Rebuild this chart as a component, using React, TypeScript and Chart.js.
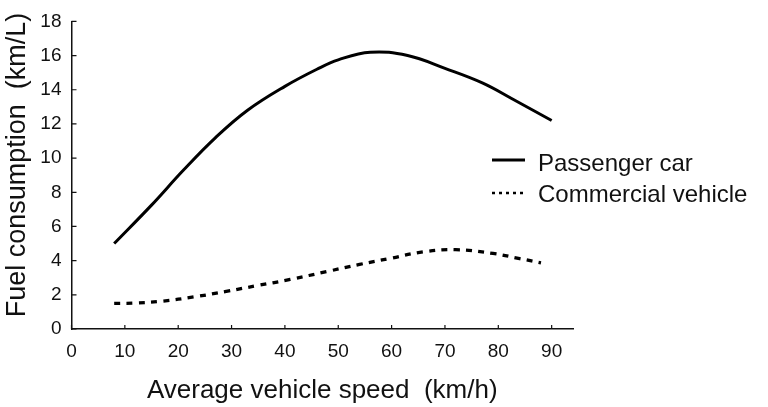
import React, { useEffect, useRef } from 'react';
import { Chart, registerables } from 'chart.js';

Chart.register(...registerables);

// ---- data ----
const carSpeed = [8, 15, 21, 27, 33, 40, 46, 50, 56, 63, 70, 77, 83, 90];
const carFuel = [5.0, 7.25, 9.3, 11.2, 12.8, 14.2, 15.2, 15.75, 16.2, 16.0, 15.25, 14.4, 13.4, 12.2];

const vanSpeed = [8, 12, 17, 23, 29, 35, 41, 48, 54, 60, 66, 72, 79, 84, 88];
const vanFuel = [1.5, 1.52, 1.63, 1.88, 2.2, 2.55, 2.9, 3.37, 3.78, 4.15, 4.52, 4.64, 4.42, 4.12, 3.87];

const xTicks = [0, 10, 20, 30, 40, 50, 60, 70, 80, 90];
const yTicks = [0, 2, 4, 6, 8, 10, 12, 14, 16, 18];

const seriesNames = ['Passenger car', 'Commercial vehicle'];
const xTitle = 'Average vehicle speed  (km/h)';
const yTitle = 'Fuel consumption  (km/L)';

const FONT = "'Liberation Sans', Arial, Helvetica, sans-serif";
const INK = '#111';

const innerTicks = {
  id: 'innerTicks',
  afterDatasetsDraw(chart: any) {
    const { ctx, chartArea: a, scales } = chart;
    const x = scales.x;
    const y = scales.y;
    ctx.save();
    ctx.strokeStyle = INK;
    ctx.lineWidth = 1.2;
    ctx.beginPath();
    x.ticks.forEach((t: any) => {
      const px = x.getPixelForValue(t.value);
      ctx.moveTo(px, a.bottom);
      ctx.lineTo(px, a.bottom - 4);
    });
    y.ticks.forEach((t: any) => {
      const py = y.getPixelForValue(t.value);
      ctx.moveTo(a.left, py);
      ctx.lineTo(a.left + 5, py);
    });
    ctx.stroke();
    ctx.restore();
  },
};

const yTitlePlugin = {
  id: 'yTitlePlugin',
  afterDraw(chart: any) {
    const { ctx } = chart;
    ctx.save();
    ctx.translate(18, 165);
    ctx.rotate(-Math.PI / 2);
    ctx.fillStyle = INK;
    ctx.font = `27px ${FONT}`;
    ctx.textAlign = 'center';
    ctx.textBaseline = 'middle';
    ctx.fillText(yTitle, 0, 0);
    ctx.restore();
  },
};

const customLegend = {
  id: 'customLegend',
  afterDraw(chart: any) {
    const { ctx } = chart;
    const x0 = 492;
    const x1 = 525;
    const tx = 538;
    const rows = [
      { y: 160, base: 170.5, dash: [] as number[], width: 3 },
      { y: 193, base: 201.5, dash: [3, 4], width: 2.6 },
    ];
    ctx.save();
    rows.forEach((r, i) => {
      ctx.beginPath();
      ctx.setLineDash(r.dash);
      ctx.lineCap = 'butt';
      ctx.strokeStyle = '#000';
      ctx.lineWidth = r.width;
      ctx.moveTo(x0, r.y);
      ctx.lineTo(x1, r.y);
      ctx.stroke();
      ctx.setLineDash([]);
      ctx.fillStyle = INK;
      ctx.font = `24px ${FONT}`;
      ctx.textAlign = 'left';
      ctx.textBaseline = 'alphabetic';
      ctx.fillText(seriesNames[i], tx, r.base);
    });
    ctx.restore();
  },
};

export default function App() {
  const ref = useRef<HTMLCanvasElement | null>(null);

  useEffect(() => {
    document.body.style.margin = '0';
    if (!ref.current) return;
    const chart = new Chart(ref.current, {
      type: 'line',
      data: {
        datasets: [
          {
            label: seriesNames[0],
            data: carSpeed.map((s, i) => ({ x: s, y: carFuel[i] })),
            borderColor: '#000',
            borderWidth: 3,
            pointRadius: 0,
            tension: 0.4,
            fill: false,
          },
          {
            label: seriesNames[1],
            data: vanSpeed.map((s, i) => ({ x: s, y: vanFuel[i] })),
            borderColor: '#000',
            borderWidth: 3.3,
            borderDash: [6, 6.3],
            borderCapStyle: 'butt',
            pointRadius: 0,
            tension: 0.4,
            fill: false,
          },
        ],
      },
      options: {
        responsive: false,
        animation: false,
        devicePixelRatio: 1,
        layout: { padding: { left: 0, right: 195, top: 15, bottom: 0 } },
        plugins: {
          legend: { display: false },
          tooltip: { enabled: false },
        },
        scales: {
          x: {
            type: 'linear',
            min: 0,
            max: 94,
            afterBuildTicks: (scale: any) => {
              scale.ticks = xTicks.map((v) => ({ value: v }));
            },
            afterFit: (scale: any) => {
              scale.height = 78;
            },
            grid: { display: false, drawTicks: false },
            border: { display: true, color: INK, width: 1.5 },
            ticks: {
              color: INK,
              font: { family: FONT, size: 19 },
              padding: 11,
              maxRotation: 0,
              autoSkip: false,
            },
            title: {
              display: true,
              text: xTitle,
              color: INK,
              font: { family: FONT, size: 26 },
              padding: { top: 0, bottom: 1 },
            },
          },
          y: {
            type: 'linear',
            min: 0,
            max: 18,
            afterBuildTicks: (scale: any) => {
              scale.ticks = yTicks.map((v) => ({ value: v }));
            },
            afterFit: (scale: any) => {
              scale.width = 71.5;
            },
            grid: { display: false, drawTicks: false },
            border: { display: true, color: INK, width: 1.5 },
            ticks: {
              color: INK,
              font: { family: FONT, size: 19 },
              padding: 10,
              autoSkip: false,
            },
            title: { display: false },
          },
        },
      } as any,
      plugins: [innerTicks, yTitlePlugin, customLegend],
    });
    return () => chart.destroy();
  }, []);

  return (
    <div style={{ width: 768, height: 407, background: '#fff' }}>
      <canvas ref={ref} width={768} height={407} style={{ display: 'block', width: 768, height: 407 }} />
    </div>
  );
}
